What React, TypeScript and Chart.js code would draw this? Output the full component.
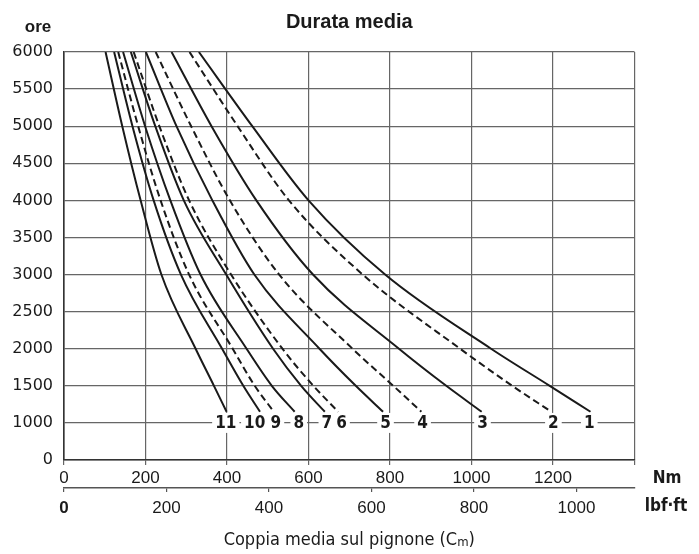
import React, { useEffect, useRef } from 'react';
import { Chart, registerables } from 'chart.js';

Chart.register(...registerables);

// ---- data (torque in Nm at each hours level) ----
const hoursLevels = [6000, 5000, 4000, 3000, 2000, 1500, 1150];
const curve1 = [331, 462, 600, 788, 1048, 1192, 1292];
const curve2 = [308, 426, 552, 733, 972, 1100, 1196];
const curve3 = [264, 362, 472, 611, 822, 938, 1025];
const curve4 = [225, 312, 407, 528, 708, 808, 877];
const curve5 = [201, 276, 364, 467, 627, 716, 783];
const curve6 = [171, 234, 307, 410, 536, 612, 673];
const curve7 = [164, 224, 294, 398, 513, 582, 640];
const curve8 = [145, 199, 261, 335, 448, 510, 566];
const curve9 = [133, 182, 237, 307, 414, 468, 515];
const curve10 = [123, 168, 220, 287, 388, 440, 481];
const curve11 = [102, 143, 188, 239, 323, 368, 399];

const curveNames = ['1', '2', '3', '4', '5', '6', '7', '8', '9', '10', '11'];
const curveValues = [curve1, curve2, curve3, curve4, curve5, curve6, curve7, curve8, curve9, curve10, curve11];
const dashedCurves = ['2', '4', '6', '9'];
const labelNm = [1289, 1201, 1027, 880, 789, 681, 645, 576, 520, 468, 397];
const labelHours = 1000;

const nmTicks = [0, 200, 400, 600, 800, 1000, 1200, 1400];
const lbfTicks = [0, 200, 400, 600, 800, 1000];
const hourTicks = [500, 1000, 1500, 2000, 2500, 3000, 3500, 4000, 4500, 5000, 5500, 6000];
const NM_PER_LBFFT = 1.2575;

const titleText = 'Durata media';
const yUnit = 'ore';
const nmUnit = 'Nm';
const lbfUnit = 'lbf·ft';
const xTitleMain = 'Coppia media sul pignone (C';
const xTitleSub = 'm';
const xTitleEnd = ')';

const SANS = '"Liberation Sans", Arial, sans-serif';
const WIDE = '"DejaVu Sans", "Liberation Sans", sans-serif';
const NARROW = '"Liberation Sans Narrow", "DejaVu Sans Condensed", "Liberation Sans", sans-serif';

const textPlugin = {
  id: 'textPlugin',
  afterDatasetsDraw(chart: any) {
    const { ctx, scales } = chart;
    const xs = scales.x;
    const ys = scales.y;
    ctx.save();
    ctx.font = `bold 17px ${NARROW}`;
    ctx.textAlign = 'center';
    ctx.textBaseline = 'middle';
    curveNames.forEach((name, i) => {
      const px = xs.getPixelForValue(labelNm[i]);
      const py = ys.getPixelForValue(labelHours);
      const w = ctx.measureText(name).width;
      ctx.fillStyle = '#ffffff';
      ctx.fillRect(px - w / 2 - 3, py - 10, w + 6, 20);
      ctx.fillStyle = '#1a1a1a';
      ctx.fillText(name, px, py + 1);
    });
    ctx.restore();
  },
  afterDraw(chart: any) {
    const { ctx, chartArea } = chart;
    const cx = (chartArea.left + chartArea.right) / 2;
    ctx.save();
    ctx.fillStyle = '#1a1a1a';
    ctx.textBaseline = 'middle';
    ctx.textAlign = 'center';
    ctx.font = `bold 20px ${SANS}`;
    ctx.fillText(titleText, cx, 22);
    ctx.font = `bold 17px ${SANS}`;
    ctx.fillText(yUnit, 38, 27);
    ctx.font = `bold 17px ${NARROW}`;
    ctx.fillText(nmUnit, 667, 479);
    ctx.fillText(lbfUnit, 666, 507);
    // bottom title with subscript
    ctx.font = `18px ${NARROW}`;
    const w1 = ctx.measureText(xTitleMain).width;
    const w3 = ctx.measureText(xTitleEnd).width;
    ctx.font = `13px ${NARROW}`;
    const w2 = ctx.measureText(xTitleSub).width;
    const total = w1 + w2 + w3;
    const x0 = cx - total / 2;
    ctx.textAlign = 'left';
    ctx.font = `18px ${NARROW}`;
    ctx.fillText(xTitleMain, x0, 540);
    ctx.font = `13px ${NARROW}`;
    ctx.fillText(xTitleSub, x0 + w1, 543);
    ctx.font = `18px ${NARROW}`;
    ctx.fillText(xTitleEnd, x0 + w1 + w2, 540);
    ctx.restore();
  },
};

export default function App() {
  const canvasRef = useRef<HTMLCanvasElement | null>(null);

  useEffect(() => {
    document.body.style.margin = '0';
    const canvas = canvasRef.current;
    if (!canvas) return;

    const datasets = curveNames.map((name, i) => ({
      label: name,
      data: hoursLevels.map((h, j) => ({ x: curveValues[i][j], y: h })),
      borderColor: '#1a1a1a',
      borderWidth: 2,
      borderDash: dashedCurves.includes(name) ? [7, 4] : [],
      pointRadius: 0,
      showLine: true,
      fill: false,
      cubicInterpolationMode: 'monotone' as const,
    }));

    const chart = new Chart(canvas, {
      type: 'scatter',
      data: { datasets },
      plugins: [textPlugin],
      options: {
        animation: false,
        responsive: false,
        layout: { padding: { left: 0, right: 64.5, top: 52, bottom: 34 } },
        plugins: {
          legend: { display: false },
          tooltip: { enabled: false },
          title: { display: false },
        },
        scales: {
          x: {
            type: 'linear',
            position: 'bottom',
            min: 0,
            max: 1400,
            weight: 0,
            afterBuildTicks: (s: any) => {
              s.ticks = nmTicks.map((v) => ({ value: v }));
            },
            afterFit: (s: any) => {
              s.height = 28;
            },
            grid: { color: '#666666', lineWidth: 1.2, tickLength: 5, drawTicks: true },
            border: { display: true, color: '#333333', width: 1.6 },
            ticks: {
              padding: 3,
              color: '#1a1a1a',
              font: { family: SANS, size: 17 },
              maxRotation: 0,
              autoSkip: false,
              callback: (v: any) => (v === 1400 ? '' : String(v)),
            },
          },
          lbf: {
            type: 'linear',
            position: 'bottom',
            min: 0,
            max: 1400 / NM_PER_LBFFT,
            weight: 1,
            afterBuildTicks: (s: any) => {
              s.ticks = lbfTicks.map((v) => ({ value: v }));
            },
            afterFit: (s: any) => {
              s.height = 32;
            },
            grid: { drawOnChartArea: false, color: '#555555', lineWidth: 1.2, tickLength: 4 },
            border: { display: true, color: '#555555', width: 1.4 },
            ticks: {
              padding: 6,
              color: '#1a1a1a',
              maxRotation: 0,
              autoSkip: false,
              font: (c: any) =>
                c.tick && c.tick.value === 0
                  ? { family: SANS, size: 17, weight: 'bold' }
                  : { family: SANS, size: 17 },
              callback: (v: any) => String(v),
            },
          },
          y: {
            type: 'linear',
            min: 500,
            max: 6000,
            afterBuildTicks: (s: any) => {
              s.ticks = hourTicks.map((v) => ({ value: v }));
            },
            afterFit: (s: any) => {
              s.width = 64;
            },
            grid: { color: '#666666', lineWidth: 1.2, drawTicks: false },
            border: { display: true, color: '#333333', width: 1.6 },
            ticks: {
              padding: 11,
              color: '#1a1a1a',
              font: { family: WIDE, size: 16 },
              autoSkip: false,
              callback: (v: any) => (v === 500 ? '0' : String(v)),
            },
          },
        },
      } as any,
    });

    return () => {
      chart.destroy();
    };
  }, []);

  return (
    <div style={{ width: 699, height: 554, position: 'relative' }}>
      <canvas ref={canvasRef} width={699} height={554} style={{ display: 'block' }} />
    </div>
  );
}
